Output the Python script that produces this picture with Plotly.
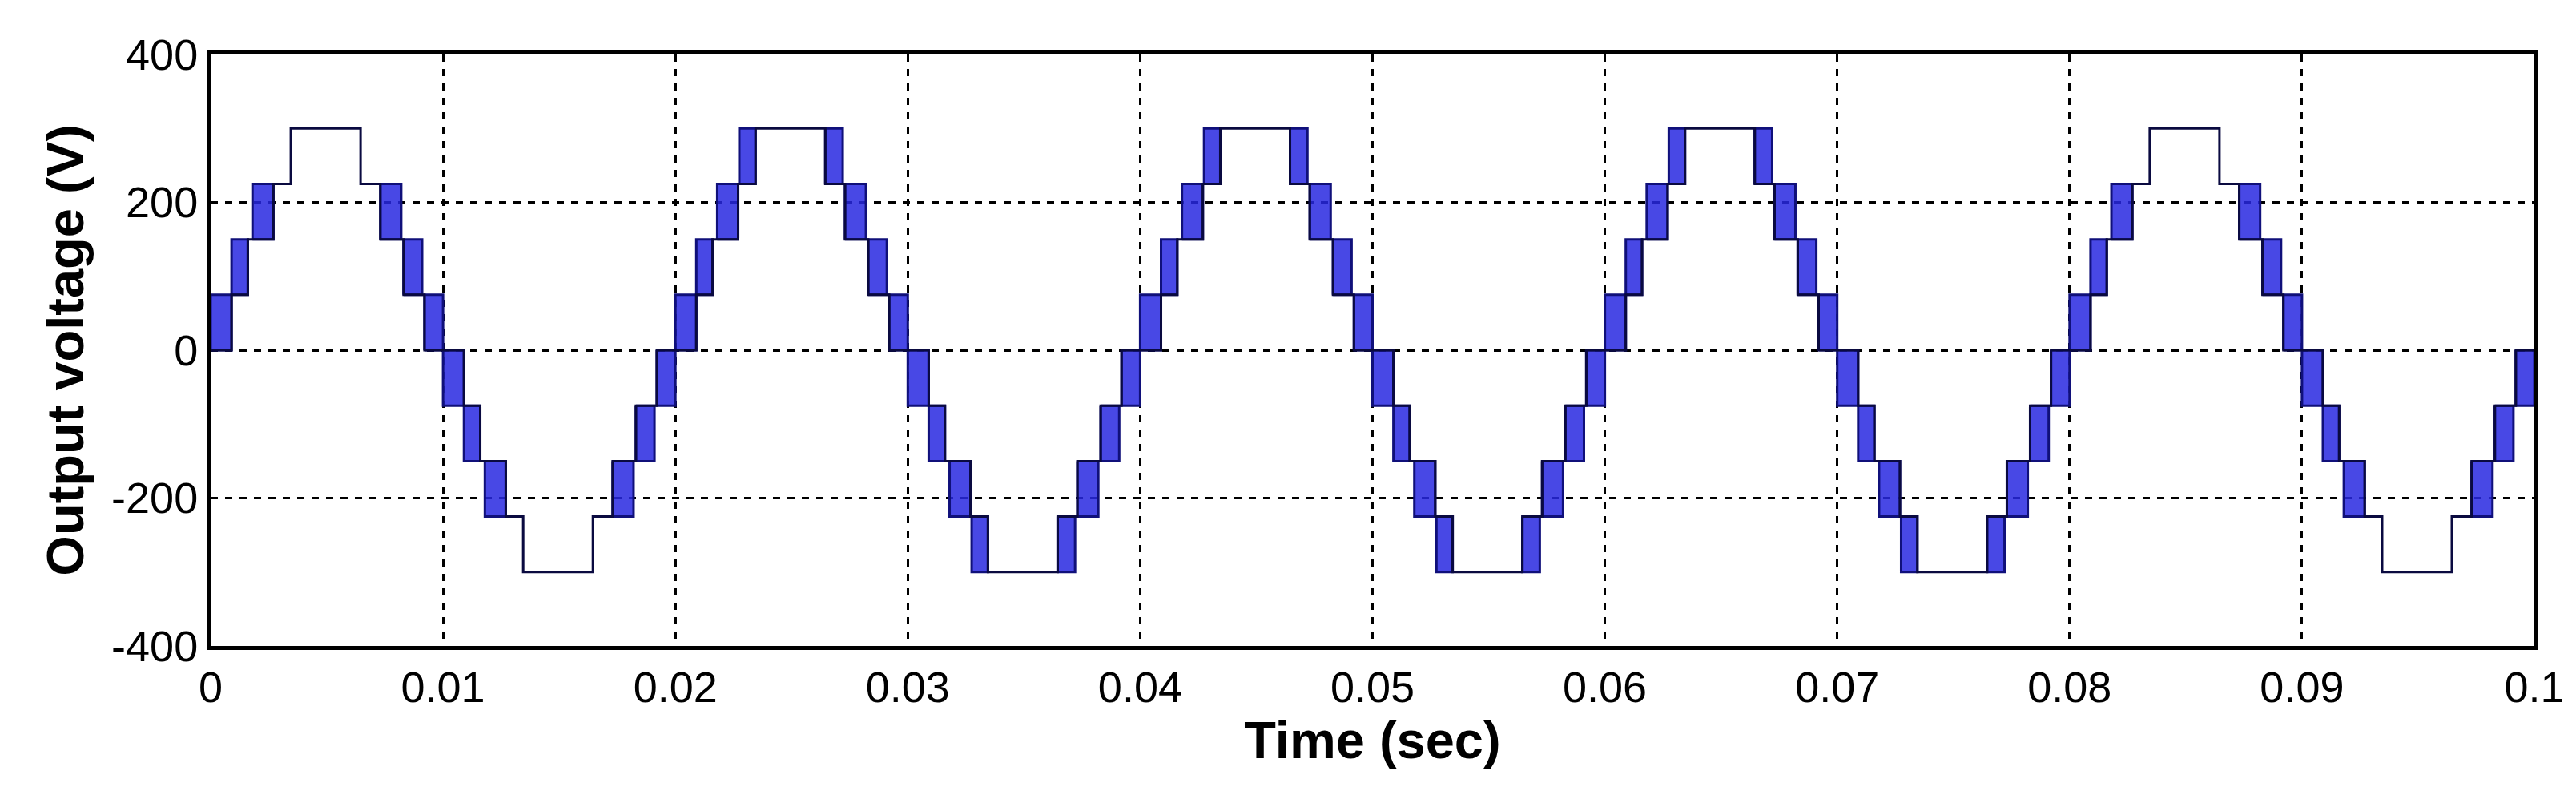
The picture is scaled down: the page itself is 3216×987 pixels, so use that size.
import plotly.graph_objects as go

# Cycle start times (s) and whether the peak levels show switching chatter
cycle_starts = [0.0, 0.02, 0.04, 0.06, 0.08]
peak_chatter = [False, True, True, True, False]
# staircase levels (V)
levels = [0, 75, 150, 225, 300]
# Rising edge windows within a half cycle (ms): 0->75, 75->150, 150->225, 225->300
rise_win = [(0.0, 0.9), (0.9, 1.6), (1.8, 2.7), (2.75, 3.45)]
# Falling edge windows (ms): 300->225, 225->150, 150->75, 75->0
fall_win = [(6.45, 7.2), (7.3, 8.2), (8.3, 9.1), (9.2, 10.0)]

fig = go.Figure()
bt, bv = [0.0], [0]
rects = []
for c0, pc in zip(cycle_starts, peak_chatter):
    for sign, off in ((1, 0.0), (-1, 0.010)):
        base = c0 + off
        for i, (a, b) in enumerate(rise_win):
            lo, hi = sign * levels[i], sign * levels[i + 1]
            if i < 3 or pc:
                rects.append((base + a / 1000, base + b / 1000, lo, hi))
            bt.append(base + b / 1000)
            bv.append(hi)
        for i, (a, b) in enumerate(fall_win):
            lo, hi = sign * levels[3 - i], sign * levels[4 - i]
            if i > 0 or pc:
                rects.append((base + a / 1000, base + b / 1000, lo, hi))
            bt.append(base + a / 1000)
            bv.append(lo)
bt.append(0.1)
bv.append(0)

for (a, b, lo, hi) in rects:
    fig.add_trace(go.Scatter(x=[a, b, b, a, a], y=[lo, lo, hi, hi, lo], mode="lines",
                             fill="toself", fillcolor="rgba(40,40,225,0.85)",
                             line=dict(color="#10107a", width=3), hoverinfo="skip",
                             showlegend=False))
fig.add_trace(go.Scatter(x=bt, y=bv, mode="lines", line=dict(color="#0a0a40", width=3, shape="hv"),
                         showlegend=False))

font = dict(family="Liberation Sans, Arial, sans-serif", size=54, color="black")
fig.update_layout(
    width=3216, height=987, plot_bgcolor="white", paper_bgcolor="white",
    margin=dict(l=255, r=60, t=60, b=189), font=font,
    xaxis=dict(range=[0, 0.1], tickvals=[i / 100 for i in range(11)],
               ticktext=["0", "0.01", "0.02", "0.03", "0.04", "0.05", "0.06", "0.07", "0.08", "0.09", "0.1"],
               showgrid=True, gridcolor="black", griddash="dash", gridwidth=3,
               showline=True, linecolor="black", linewidth=5, mirror=True, zeroline=False,
               ticks="", title=dict(text="<b>Time (sec)</b>", standoff=15)),
    yaxis=dict(range=[-400, 400], tickvals=[-400, -200, 0, 200, 400],
               ticktext=["-400", "-200", "0", "200", "400"],
               showgrid=True, gridcolor="black", griddash="dash", gridwidth=3,
               showline=True, linecolor="black", linewidth=5, mirror=True, zeroline=False,
               ticks="", title=dict(text="<b>Output voltage (V)</b>", standoff=15)),
)
fig.write_html("out.html")
